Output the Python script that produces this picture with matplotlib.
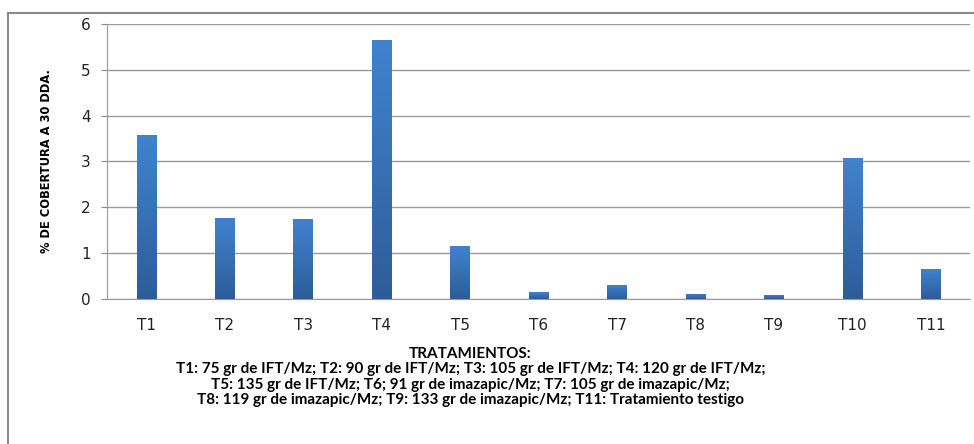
import numpy as np
import matplotlib
matplotlib.use('Agg')
import matplotlib.pyplot as plt
from matplotlib.colors import LinearSegmentedColormap
from matplotlib.patches import Rectangle

# Values
treatments = ['T1', 'T2', 'T3', 'T4', 'T5', 'T6', 'T7', 'T8', 'T9', 'T10', 'T11']
cobertura = [3.58, 1.77, 1.75, 5.66, 1.16, 0.15, 0.31, 0.11, 0.09, 3.08, 0.66]
y_ticks = [0, 1, 2, 3, 4, 5, 6]

ylabel = '% DE COBERTURA A 30 DDA.'
footer = ('TRATAMIENTOS:\n'
          'T1: 75 gr de IFT/Mz; T2: 90 gr de IFT/Mz; T3: 105 gr de IFT/Mz; T4: 120 gr de IFT/Mz;\n'
          'T5: 135 gr de IFT/Mz; T6; 91 gr de imazapic/Mz; T7: 105 gr de imazapic/Mz;\n'
          'T8: 119 gr de imazapic/Mz; T9: 133 gr de imazapic/Mz; T11: Tratamiento testigo')

fig = plt.figure(figsize=(9.74, 4.44), dpi=100)
ax = fig.add_axes([0.110, 0.327, 0.886, 0.619])

x = np.arange(len(treatments))
bars = ax.bar(x, cobertura, width=0.25, color='#3a75be', zorder=3)

# vertical gradient inside each bar (light top, dark bottom)
cmap = LinearSegmentedColormap.from_list('bar', ['#2d5d98', '#4183cf'])
grad = np.linspace(0, 1, 256).reshape(-1, 1)
for b in bars:
    x0, w, h = b.get_x(), b.get_width(), b.get_height()
    im = ax.imshow(grad, cmap=cmap, origin='lower', aspect='auto',
                   extent=[x0, x0 + w, 0, h], zorder=4)
    im.set_clip_path(b)

ax.set_xlim(-0.5, len(treatments) - 0.5)
ax.set_ylim(0, 6)
ax.set_yticks(y_ticks)
ax.set_xticks(x)
ax.set_xticklabels(treatments, fontsize=11, color='#222222')
ax.tick_params(axis='y', labelsize=11, length=4, color='#888888', labelcolor='#222222', pad=8)
ax.tick_params(axis='x', length=0, pad=14)
ax.grid(axis='y', color='#9a9a9a', linewidth=1, zorder=0)

for s in ['top', 'right']:
    ax.spines[s].set_visible(False)
ax.spines['left'].set_color('#9a9a9a')
ax.spines['bottom'].set_color('#9a9a9a')

fig.text(0.048, 0.637, ylabel, rotation=90, ha='center', va='center',
         fontsize=8.3, fontweight='bold', family='Liberation Sans Narrow')
fig.text(0.483, 0.151, footer, ha='center', va='center', fontsize=11,
         fontweight='bold', linespacing=1.1, family='Lato', multialignment='center')

# outer frame
fig.patches.append(Rectangle((8 / 974, -0.05), 1.1, 1 - 13 / 444 + 0.05,
                             transform=fig.transFigure, fill=False,
                             edgecolor='#8a8a8a', linewidth=1.5))

fig.savefig('out.png', dpi=100)
